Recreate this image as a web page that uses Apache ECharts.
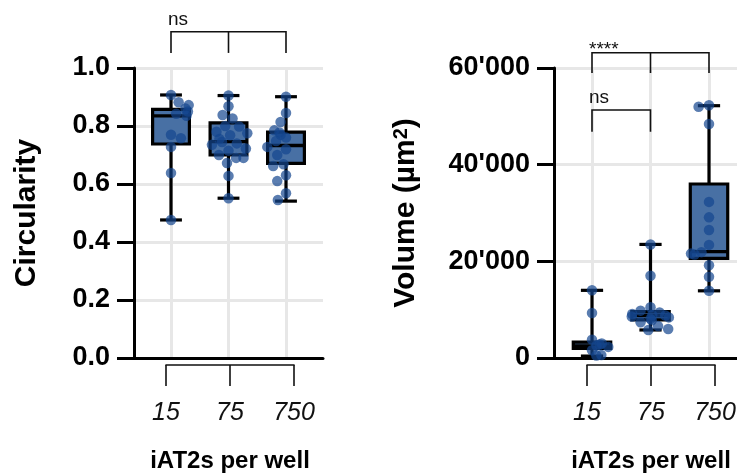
<!DOCTYPE html>
<html><head><meta charset="utf-8">
<script src="https://cdn.jsdelivr.net/npm/echarts@6/dist/echarts.min.js"></script>
<style>html,body{margin:0;padding:0;background:#fff}#c{width:737px;height:473px}</style>
</head><body><div id="c"></div>
<script>
// ---------- data ----------
const categories = ['15', '75', '750'];
const xTitle = 'iAT2s per well';

const circ15 = [0.907, 0.893, 0.882, 0.872, 0.870, 0.868, 0.865, 0.860, 0.855, 0.850, 0.848, 0.842, 0.838, 0.835, 0.832, 0.830, 0.770, 0.762, 0.758, 0.745, 0.728, 0.718, 0.638, 0.617, 0.476];
const circ75 = [0.905, 0.868, 0.838, 0.826, 0.800, 0.798, 0.780, 0.775, 0.768, 0.755, 0.745, 0.740, 0.735, 0.722, 0.715, 0.700, 0.690, 0.690, 0.672, 0.628, 0.551];
const circ750 = [0.901, 0.845, 0.814, 0.795, 0.785, 0.782, 0.778, 0.770, 0.760, 0.748, 0.742, 0.738, 0.735, 0.728, 0.720, 0.712, 0.700, 0.690, 0.675, 0.668, 0.662, 0.630, 0.610, 0.568, 0.545];
// [min, q1, median, q3, max]
const circBox15 = [0.476, 0.738, 0.835, 0.857, 0.907];
const circBox75 = [0.551, 0.700, 0.746, 0.811, 0.905];
const circBox750 = [0.541, 0.671, 0.733, 0.779, 0.901];
const circTicks = [0, 0.2, 0.4, 0.6, 0.8, 1.0];

const vol15 = [14000, 9300, 3800, 3300, 3000, 2800, 2600, 2500, 2400, 2300, 1600, 800, 600, 500, 400];
const vol75 = [23500, 17000, 10500, 9800, 9400, 9100, 8900, 8800, 8600, 8400, 8100, 7800, 7400, 6600, 6000, 5800];
const vol750 = [52300, 52000, 48400, 32300, 29100, 26500, 23400, 21900, 21800, 21700, 21600, 21400, 19200, 16800, 13900];
const volBox15 = [400, 2000, 2500, 3300, 14000];
const volBox75 = [5800, 7900, 8800, 9600, 23500];
const volBox750 = [13900, 20600, 22000, 36000, 52200];
const volTicks = [0, 20000, 40000, 60000];

// significance brackets: [fromCat, toCat, midCat(-1 none), lineY, dropY, labelY]
const circBrackets = [[0, 2, 1, 1.125, 1.052, 1.166]];
const circBracketLabels = ['ns'];
const volBrackets = [[0, 2, 1, 63170, 58970, 63850], [0, 1, -1, 51310, 46820, 53900]];
const volBracketLabels = ['****', 'ns'];

// ---------- styling ----------
const FONT = '"Liberation Sans", Arial, Helvetica, sans-serif';
const BOX_FILL = '#4870a4';
const DOT = 'rgba(20,70,142,0.88)';
const GRIDC = '#e7e7e7';

function fmtVol(v) { return String(v).replace(/\B(?=(\d{3})+(?!\d))/g, "'"); }

function renderBox(params, api) {
  const x = api.value(0);
  const p = [1, 2, 3, 4, 5].map(i => api.coord([x, api.value(i)]));
  const band = Math.abs(api.coord([1, 0])[0] - api.coord([0, 0])[0]);
  const bw = band * 0.64, cw = band * 0.38;
  const cx = p[0][0];
  const ls = { stroke: '#000', lineWidth: 3.2 };
  return {
    type: 'group',
    children: [
      { type: 'line', shape: { x1: cx, y1: p[0][1], x2: cx, y2: p[4][1] }, style: ls },
      { type: 'line', shape: { x1: cx - cw / 2, y1: p[0][1], x2: cx + cw / 2, y2: p[0][1] }, style: ls },
      { type: 'line', shape: { x1: cx - cw / 2, y1: p[4][1], x2: cx + cw / 2, y2: p[4][1] }, style: ls },
      { type: 'rect', shape: { x: cx - bw / 2, y: p[3][1], width: bw, height: p[1][1] - p[3][1] },
        style: { fill: BOX_FILL, stroke: '#000', lineWidth: 3.2 } },
      { type: 'line', shape: { x1: cx - bw / 2, y1: p[2][1], x2: cx + bw / 2, y2: p[2][1] }, style: { stroke: '#000', lineWidth: 3.4 } }
    ]
  };
}

function makeBracketRenderer(labels) {
  return function (params, api) {
    const a = api.coord([api.value(0), api.value(3)]);
    const b = api.coord([api.value(1), api.value(3)]);
    const da = api.coord([api.value(0), api.value(4)]);
    const db = api.coord([api.value(1), api.value(4)]);
    const ls = { stroke: '#111', lineWidth: 1.6, fill: null };
    const children = [
      { type: 'polyline', shape: { points: [[da[0], da[1]], [a[0], a[1]], [b[0], b[1]], [db[0], db[1]]] }, style: ls }
    ];
    if (api.value(2) >= 0) {
      const m = api.coord([api.value(2), api.value(3)]);
      const dm = api.coord([api.value(2), api.value(4)]);
      children.push({ type: 'line', shape: { x1: m[0], y1: m[1], x2: dm[0], y2: dm[1] }, style: ls });
    }
    const t = api.coord([api.value(0), api.value(5)]);
    children.push({ type: 'text', x: t[0] - 3, y: t[1],
      style: { text: labels[params.dataIndex], fill: '#111', font: '19px ' + FONT, textAlign: 'left', textVerticalAlign: 'middle' } });
    return { type: 'group', children };
  };
}

function toPts(cat, arr) { return arr.map(v => [cat, v]); }

// layout per panel
const panels = [
  { gA: { left: 134, width: 189 }, gC: { left: 171, width: 115 }, gB: { left: 166, width: 128 } },
  { gA: { left: 554, width: 190 }, gC: { left: 592, width: 117 }, gB: { left: 587, width: 128 } }
];
const TOP = 68, H = 290;

const grid = [];
panels.forEach(p => {
  [p.gC, p.gA, p.gB].forEach(g => {
    grid.push({ left: g.left, width: g.width, top: TOP, height: H, containLabel: false, outerBoundsMode: 'none' });
  });
});

const xAxis = [], yAxis = [];
const yCfg = [
  { max: 1, interval: 0.2, fmt: v => v.toFixed(1), name: 'Circularity', nameGap: 92, rich: {} },
  { max: 60000, interval: 20000, fmt: fmtVol, name: 'Volume (µm{s|2})', nameGap: 133,
    rich: { s: { fontSize: 20, fontWeight: 'bold', fontFamily: FONT, color: '#000', verticalAlign: 'top' } } }
];
[0, 1].forEach(k => {
  const base = k * 3;
  // grid C: category axis carrying the data, vertical grid lines
  xAxis.push({ gridIndex: base, type: 'category', data: categories, boundaryGap: false,
    axisLine: { show: false }, axisTick: { show: false }, axisLabel: { show: false },
    splitLine: { show: true, interval: 0, lineStyle: { color: GRIDC, width: 3 } },
    jitter: 38, jitterOverlap: false, jitterMargin: 0 });
  yAxis.push({ gridIndex: base, type: 'value', min: 0, max: yCfg[k].max, show: false, splitLine: { show: false } });
  // grid A: black frame axes, horizontal grid lines, y labels
  xAxis.push({ gridIndex: base + 1, type: 'value', min: 0, max: 1,
    axisLine: { show: true, onZero: false, lineStyle: { color: '#000', width: 3 } },
    axisTick: { show: false }, axisLabel: { show: false }, splitLine: { show: false } });
  yAxis.push({ gridIndex: base + 1, type: 'value', min: 0, max: yCfg[k].max, interval: yCfg[k].interval,
    axisLine: { show: true, lineStyle: { color: '#000', width: 3 } },
    axisTick: { show: true, length: 17, lineStyle: { color: '#000', width: 3 } },
    axisLabel: { fontSize: 27, fontWeight: 'bold', fontFamily: FONT, color: '#000', margin: 24, formatter: yCfg[k].fmt },
    splitLine: { show: true, lineStyle: { color: GRIDC, width: 3 } },
    name: yCfg[k].name, nameLocation: 'middle', nameGap: yCfg[k].nameGap,
    nameTextStyle: { fontSize: 30, fontWeight: 'bold', fontFamily: FONT, color: '#000', rich: yCfg[k].rich } });
  // grid B: bracket-style category labels
  xAxis.push({ gridIndex: base + 2, type: 'category', data: categories, boundaryGap: false, offset: 7,
    axisLine: { show: true, onZero: false, lineStyle: { color: '#111', width: 1.6 } },
    axisTick: { show: true, interval: 0, length: 21, lineStyle: { color: '#111', width: 1.6 } },
    axisLabel: { interval: 0, fontSize: 25, fontStyle: 'italic', fontFamily: FONT, color: '#111', margin: 36 },
    splitLine: { show: false },
    name: xTitle, nameLocation: 'middle', nameGap: 84,
    nameTextStyle: { fontSize: 24, fontWeight: 'bold', fontFamily: FONT, color: '#000' } });
  yAxis.push({ gridIndex: base + 2, type: 'value', min: 0, max: yCfg[k].max, show: false, splitLine: { show: false } });
});

const series = [];
function addPanel(k, boxes, groups, brackets, labels) {
  const xi = k * 3, yi = k * 3;
  series.push({ type: 'custom', xAxisIndex: xi, yAxisIndex: yi, renderItem: renderBox, z: 2,
    encode: { x: 0, y: [1, 2, 3, 4, 5] },
    data: boxes.map((b, i) => [i].concat(b)) });
  groups.forEach((g, i) => {
    series.push({ type: 'scatter', xAxisIndex: xi, yAxisIndex: yi, z: 3, symbolSize: 10.5,
      itemStyle: { color: DOT }, data: toPts(i, g) });
  });
  series.push({ type: 'custom', xAxisIndex: xi, yAxisIndex: yi, clip: false, z: 4,
    renderItem: makeBracketRenderer(labels), encode: { x: 0, y: 3 }, data: brackets });
}
addPanel(0, [circBox15, circBox75, circBox750], [circ15, circ75, circ750], circBrackets, circBracketLabels);
addPanel(1, [volBox15, volBox75, volBox750], [vol15, vol75, vol750], volBrackets, volBracketLabels);

const chart = echarts.init(document.getElementById('c'), null, { renderer: 'canvas' });
chart.setOption({ animation: false, backgroundColor: '#fff', textStyle: { fontFamily: FONT }, grid, xAxis, yAxis, series });
</script>
</body></html>
